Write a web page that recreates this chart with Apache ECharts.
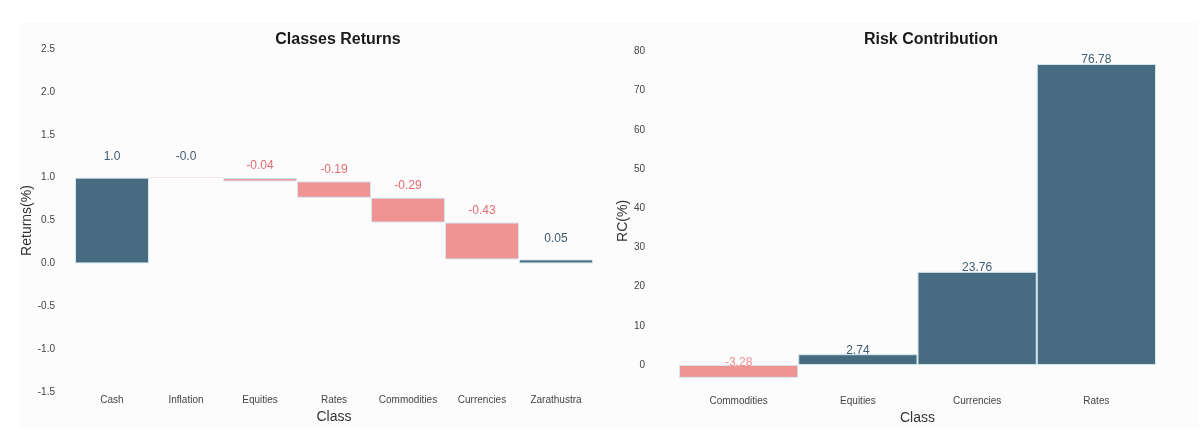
<!DOCTYPE html>
<html>
<head>
<meta charset="utf-8">
<script src="https://cdn.jsdelivr.net/npm/echarts@6/dist/echarts.min.js"></script>
<style>
  html, body { margin: 0; padding: 0; background: #ffffff; }
  #chart { width: 1200px; height: 445px; }
</style>
</head>
<body>
<div id="chart"></div>
<script>
// ---- Data ----
const returnCategories = ['Cash', 'Inflation', 'Equities', 'Rates', 'Commodities', 'Currencies', 'Zarathustra'];
const returnValues = [1.0, -0.004, -0.04, -0.19, -0.29, -0.43, 0.046]; // last one is the total
const returnTicks = ['-1.5', '-1.0', '-0.5', '0.0', '0.5', '1.0', '1.5', '2.0', '2.5'];

const rcCategories = ['Commodities', 'Equities', 'Currencies', 'Rates'];
const rcValues = [-3.28, 2.74, 23.76, 76.78];
const rcTicks = ['0', '10', '20', '30', '40', '50', '60', '70', '80'];

// ---- Style ----
const BLUE = '#476b81';
const RED = '#f09393';
const BLUE_TXT = '#3f5c70';
const RED_TXT = '#e56b72';
const EDGE = '#d3e5ee';
const FONT = 'Liberation Sans, Arial, sans-serif';

function pyRound(v) {
  const r = Math.round(v * 100) / 100;
  if (Object.is(r, -0) || (r === 0 && v < 0)) return '-0.0';
  let s = String(r);
  if (s.indexOf('.') < 0) s += '.0';
  return s;
}

// Waterfall layout
const baseData = [];
const deltaData = [];
let cum = 0;
returnValues.forEach((v, i) => {
  const isTotal = i === returnValues.length - 1;
  let start, end;
  if (isTotal) { start = 0; end = v; }
  else { start = cum; end = cum + v; cum = end; }
  const lo = Math.min(start, end), hi = Math.max(start, end);
  const txt = pyRound(v);
  const neg = txt.charAt(0) === '-' && txt !== '-0.0';
  baseData.push(lo);
  deltaData.push({
    value: hi - lo,
    raw: v,
    itemStyle: {
      color: (v < 0 && !isTotal) ? RED : BLUE,
      borderWidth: (hi - lo) < 0.01 ? 0 : 1
    },
    label: { color: neg ? RED_TXT : BLUE_TXT, distance: neg ? 6 : 15 }
  });
});

const rcData = rcValues.map(v => ({
  value: v,
  itemStyle: { color: v < 0 ? RED : BLUE },
  label: { color: v < 0 ? '#ef8a8e' : BLUE_TXT, distance: v < 0 ? -4 : -2 }
}));

const chart = echarts.init(document.getElementById('chart'), null, { renderer: 'canvas' });

const axisLabelStyle = { color: '#444', fontSize: 10, fontFamily: FONT };
const axisNameStyle = { color: '#333', fontSize: 14, fontFamily: FONT };

chart.setOption({
  animation: false,
  backgroundColor: '#ffffff',
  graphic: [{
    type: 'rect', shape: { x: 20, y: 22, width: 1178, height: 406 },
    style: { fill: '#fcfcfc' }, z: -10, silent: true
  }],
  title: [
    { text: 'Classes Returns', left: 333, top: 27, textAlign: 'center',
      textStyle: { fontSize: 16, fontWeight: 'bold', color: '#1a1a1a', fontFamily: FONT } },
    { text: 'Risk Contribution', left: 926, top: 27, textAlign: 'center',
      textStyle: { fontSize: 16, fontWeight: 'bold', color: '#1a1a1a', fontFamily: FONT } }
  ],
  grid: [
    { left: 75, top: 49, width: 518, height: 343, containLabel: false },
    { left: 679, top: 48.3, width: 477, height: 345.2, containLabel: false }
  ],
  xAxis: [
    { type: 'category', gridIndex: 0, data: returnCategories,
      axisLine: { show: false }, axisTick: { show: false }, splitLine: { show: false },
      axisLabel: Object.assign({ margin: 3, interval: 0 }, axisLabelStyle),
      name: 'Class', nameLocation: 'middle', nameGap: 13, nameTextStyle: axisNameStyle },
    { type: 'category', gridIndex: 1, data: rcCategories,
      axisLine: { show: false }, axisTick: { show: false }, splitLine: { show: false },
      axisLabel: Object.assign({ margin: 3, interval: 0 }, axisLabelStyle),
      name: 'Class', nameLocation: 'middle', nameGap: 13, nameTextStyle: axisNameStyle }
  ],
  yAxis: [
    { type: 'value', gridIndex: 0, min: -1.5, max: 2.5, interval: 0.5,
      axisLine: { show: false }, axisTick: { show: false }, splitLine: { show: false },
      axisLabel: Object.assign({ margin: 20, formatter: (v) => {
        const s = v.toFixed(1);
        return returnTicks.indexOf(s) >= 0 ? s : '';
      } }, axisLabelStyle),
      name: 'Returns(%)', nameLocation: 'middle', nameGap: 38, nameRotate: 90, nameTextStyle: axisNameStyle },
    { type: 'value', gridIndex: 1, min: -7.28, max: 80.78, splitNumber: 9,
      axisLine: { show: false }, axisTick: { show: false }, splitLine: { show: false },
      axisLabel: Object.assign({ margin: 34, showMinLabel: false, showMaxLabel: false, formatter: (v) => {
        const s = String(Math.round(v));
        return (Math.abs(v - Math.round(v)) < 1e-6 && rcTicks.indexOf(s) >= 0) ? s : '';
      } }, axisLabelStyle),
      name: 'RC(%)', nameLocation: 'middle', nameGap: 45, nameRotate: 90, nameTextStyle: axisNameStyle }
  ],
  series: [
    { type: 'bar', xAxisIndex: 0, yAxisIndex: 0, stack: 'wf', data: baseData,
      barWidth: '100%', barCategoryGap: 0,
      itemStyle: { color: 'rgba(0,0,0,0)', borderWidth: 0 }, silent: true, label: { show: false } },
    { type: 'bar', xAxisIndex: 0, yAxisIndex: 0, stack: 'wf', data: deltaData,
      barWidth: '100%', barCategoryGap: 0,
      itemStyle: { borderColor: EDGE, borderWidth: 1 },
      label: { show: true, position: 'top', fontSize: 12, fontFamily: FONT,
        formatter: (p) => pyRound(p.data.raw) } },
    { type: 'bar', xAxisIndex: 1, yAxisIndex: 1, data: rcData,
      barWidth: '100%', barCategoryGap: 0,
      itemStyle: { borderColor: EDGE, borderWidth: 1 },
      label: { show: true, position: 'top', fontSize: 12, fontFamily: FONT,
        formatter: (p) => p.value.toFixed(2) } }
  ]
});
</script>
</body>
</html>
